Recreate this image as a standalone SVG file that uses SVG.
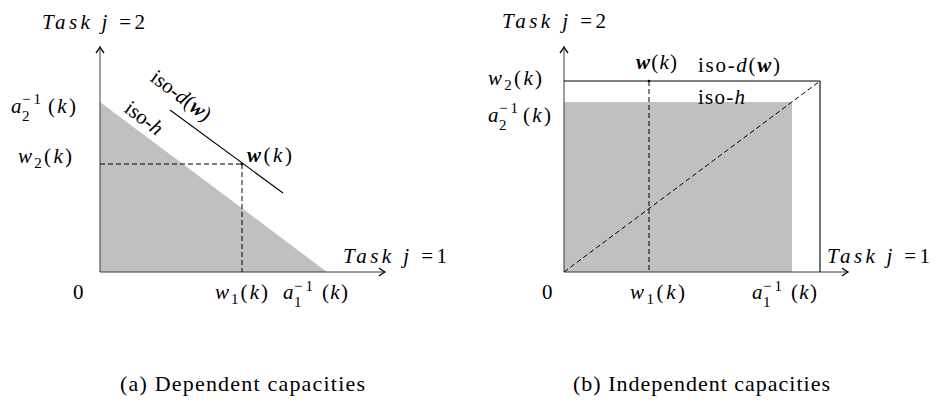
<svg xmlns="http://www.w3.org/2000/svg" width="937" height="416" viewBox="0 0 937 416" font-family="Liberation Serif, DejaVu Serif, serif">
<style>
.t{font-size:21px;fill:#000}
.i{font-style:italic}
.b{font-weight:bold;font-style:italic}
.s{font-size:15px}
.cap{font-size:22px}
.shade{fill:#c0c0c0;stroke:none}
.axis{stroke:#3a3a3a;stroke-width:1;fill:none}
.solid{stroke:#000;stroke-width:1.1;fill:none}
.dash{stroke:#000;stroke-width:1;stroke-dasharray:5 3;fill:none}
</style>
<defs>
<marker id="arr" viewBox="-8 -5 10 10" refX="0" refY="0" markerWidth="10" markerHeight="10" markerUnits="userSpaceOnUse" orient="auto">
<path d="M-6,-4 Q-2,-1 0,0 Q-2,1 -6,4" fill="none" stroke="#000" stroke-width="1.3"/>
</marker>
</defs>

<!-- Panel (a) -->
<g id="a-region"><polygon class="shade" points="100,102 100,272 327,272"/></g>
<g id="a-connectors">
<line class="axis" x1="100" y1="272" x2="100" y2="47" marker-end="url(#arr)"/>
<line class="axis" x1="100" y1="272" x2="385" y2="272" marker-end="url(#arr)"/>
<line class="dash" x1="100" y1="164" x2="242" y2="164"/>
<line class="dash" x1="242" y1="164" x2="242" y2="272"/>
<line class="solid" x1="170" y1="110" x2="283" y2="193"/>
</g>
<g id="a-point"><circle cx="242" cy="164" r="1.3" fill="#000"/></g>
<g id="a-labels">
<text class="t" x="42" y="29" textLength="103"><tspan class="i">Task</tspan> <tspan class="i">j</tspan> =2</text>
<text class="t i" x="11" y="113">a</text>
<text class="t s" x="22" y="104" textLength="19">−1</text>
<text class="t s" x="22" y="121">2</text>
<text class="t" x="48" y="113" textLength="28">(<tspan class="i">k</tspan>)</text>
<text class="t" x="18" y="163" textLength="54"><tspan class="i">w</tspan><tspan class="s" dy="5">2</tspan><tspan dy="-5">(</tspan><tspan class="i">k</tspan>)</text>
<text class="t" x="247" y="162" textLength="45"><tspan class="b">w</tspan>(<tspan class="i">k</tspan>)</text>
<text class="t" transform="translate(123,111) rotate(36.87)">iso-<tspan class="i">h</tspan></text>
<text class="t" transform="translate(149,80) rotate(36.87)">iso-<tspan class="i">d</tspan>(<tspan class="b">w</tspan>)</text>
<text class="t" x="343" y="263" textLength="104"><tspan class="i">Task</tspan> <tspan class="i">j</tspan> =1</text>
<text class="t" x="73" y="299">0</text>
<text class="t" x="215" y="299" textLength="53"><tspan class="i">w</tspan><tspan class="s" dy="5">1</tspan><tspan dy="-5">(</tspan><tspan class="i">k</tspan>)</text>
<text class="t i" x="283" y="299">a</text>
<text class="t s" x="294" y="291" textLength="19">−1</text>
<text class="t s" x="294" y="307">1</text>
<text class="t" x="322" y="299" textLength="26">(<tspan class="i">k</tspan>)</text>
<text class="t cap" x="120" y="391" textLength="245">(a) Dependent capacities</text>
</g>

<!-- Panel (b) -->
<g id="b-region"><rect class="shade" x="564" y="102" width="228" height="170"/></g>
<g id="b-connectors">
<line class="axis" x1="564" y1="272" x2="564" y2="47" marker-end="url(#arr)"/>
<line class="axis" x1="564" y1="272" x2="848" y2="272" marker-end="url(#arr)"/>
<line class="solid" x1="564" y1="81" x2="820" y2="81"/>
<line class="solid" x1="820" y1="81" x2="820" y2="272"/>
<line class="dash" x1="564" y1="272" x2="820" y2="81"/>
<line class="dash" x1="649" y1="81" x2="649" y2="272"/>
</g>
<g id="b-point"><circle cx="649" cy="81" r="1.3" fill="#000"/></g>
<g id="b-labels">
<text class="t" x="502" y="28" textLength="104"><tspan class="i">Task</tspan> <tspan class="i">j</tspan> =2</text>
<text class="t" x="488" y="85" textLength="54"><tspan class="i">w</tspan><tspan class="s" dy="5">2</tspan><tspan dy="-5">(</tspan><tspan class="i">k</tspan>)</text>
<text class="t i" x="488" y="122">a</text>
<text class="t s" x="499" y="113" textLength="19">−1</text>
<text class="t s" x="499" y="130">2</text>
<text class="t" x="523" y="122" textLength="28">(<tspan class="i">k</tspan>)</text>
<text class="t" x="636" y="69" textLength="41"><tspan class="b">w</tspan>(<tspan class="i">k</tspan>)</text>
<text class="t" x="698" y="72" textLength="82">iso-<tspan class="i">d</tspan>(<tspan class="b">w</tspan>)</text>
<text class="t" x="698" y="104" textLength="47">iso-<tspan class="i">h</tspan></text>
<text class="t" x="827" y="263" textLength="103"><tspan class="i">Task</tspan> <tspan class="i">j</tspan> =1</text>
<text class="t" x="542" y="299">0</text>
<text class="t" x="630" y="299" textLength="55"><tspan class="i">w</tspan><tspan class="s" dy="5">1</tspan><tspan dy="-5">(</tspan><tspan class="i">k</tspan>)</text>
<text class="t i" x="752" y="299">a</text>
<text class="t s" x="763" y="291" textLength="19">−1</text>
<text class="t s" x="763" y="307">1</text>
<text class="t" x="791" y="299" textLength="26">(<tspan class="i">k</tspan>)</text>
<text class="t cap" x="573" y="391" textLength="257">(b) Independent capacities</text>
</g>
</svg>
